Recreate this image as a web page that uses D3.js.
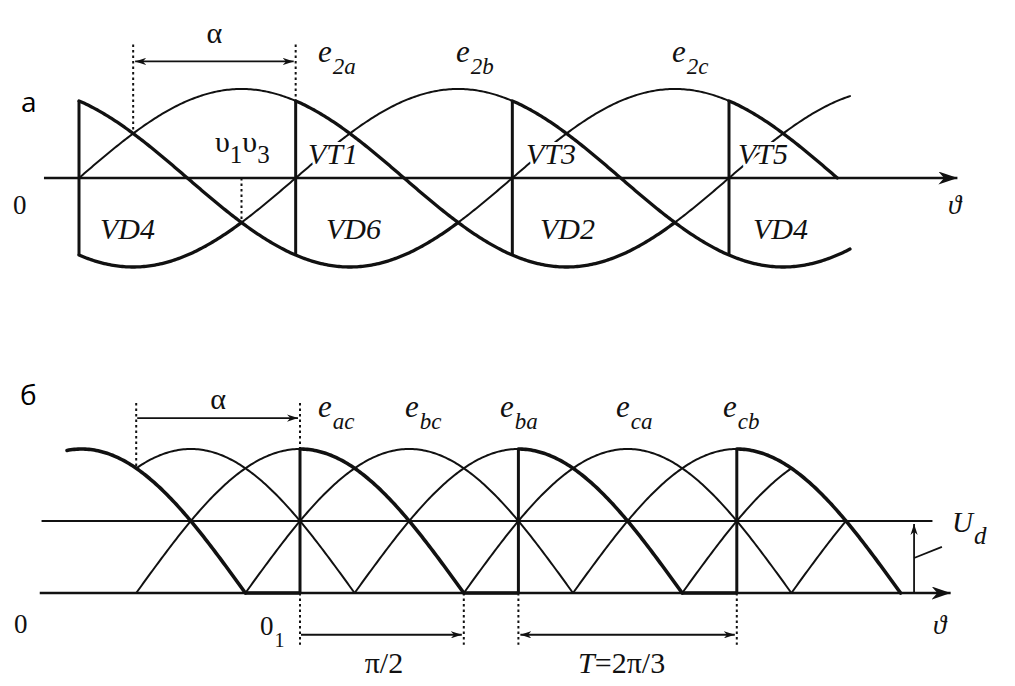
<!DOCTYPE html>
<html>
<head>
<meta charset="utf-8">
<script src="https://cdn.jsdelivr.net/npm/d3@7"></script>
<style>
  body { margin: 0; background: #fff; }
</style>
</head>
<body>
<div id="chart"></div>
<script>
// ---- part а: three phase emfs, angles in degrees ----
const phaseShift = { a: 0, b: -120, c: 120 };          // e2a = sin(t), e2b = sin(t-120), e2c = sin(t+120)
// [phase, from, to, thick]
const segmentsA = [
  ["a", 0, 120, false], ["a", 120, 330, true], ["a", 330, 427, false],
  ["b", 0, 90, true], ["b", 90, 240, false], ["b", 240, 427, true],
  ["c", 0, 210, true], ["c", 210, 360, false], ["c", 360, 420, true]
];
const firingA = [0, 120, 240, 360];                      // VT switching instants
const alphaA = [30, 120];                                // natural commutation -> firing
const topLabelsA = ["2a", "2b", "2c"];
const thyristorLabels = ["VT1", "VT3", "VT5"];
const diodeLabels = ["VD4", "VD6", "VD2", "VD4"];

// ---- part б: line voltages, arcs given by their peak angle ----
// [peak, from, to, thick]
const arcsB = [
  [-120, -128, -30, true],
  [-60, -90, 30, false],
  [0, -90, 0, false], [0, 0, 90, true],
  [60, -30, 150, false],
  [120, 30, 120, false], [120, 120, 210, true],
  [180, 90, 270, false],
  [240, 150, 240, false], [240, 240, 330, true],
  [300, 210, 270, false],
  [360, 270, 300, false]
];
const zeroRunsB = [[-30, 0], [90, 120], [210, 240]];    // output held at zero
const firingB = [0, 120, 240];
const UdLevel = 0.5;
const lineLabelsB = ["ac", "bc", "ba", "ca", "cb"];

const W = 1015, H = 686;
const ink = "#111";
const serif = "'Liberation Serif', 'Times New Roman', 'DejaVu Serif', serif";

const svg = d3.select("#chart").append("svg")
    .attr("width", W)
    .attr("height", H)
    .attr("font-family", serif);

const defs = svg.append("defs");
function marker(id, len, half) {
    defs.append("marker")
        .attr("id", id)
        .attr("viewBox", `0 ${-half} ${len} ${2 * half}`)
        .attr("refX", len).attr("refY", 0)
        .attr("markerWidth", len).attr("markerHeight", 2 * half)
        .attr("markerUnits", "userSpaceOnUse")
        .attr("orient", "auto-start-reverse")
        .append("path")
        .attr("d", `M0,${-half} L${len},0 L0,${half} L${len * 0.3},0 Z`)
        .attr("fill", ink);
}
marker("headS", 11, 3.6);
marker("headL", 19, 6.5);

function seg(g, x1, y1, x2, y2, w, extra) {
    const l = g.append("line")
        .attr("x1", x1).attr("y1", y1).attr("x2", x2).attr("y2", y2)
        .attr("stroke", ink).attr("stroke-width", w);
    if (extra === "dot") l.attr("stroke-dasharray", "2.5,3");
    return l;
}

function txt(g, x, y, size, italic) {
    return g.append("text").attr("x", x).attr("y", y)
        .attr("font-family", serif)
        .attr("fill", ink)
        .attr("font-size", size)
        .attr("font-style", italic ? "italic" : "normal");
}

function subText(g, x, y, base, sub, size, subSize, italic, halo) {
    const t = txt(g, x, y, size, italic);
    if (halo) t.attr("stroke", "#fff").attr("stroke-width", 6).attr("paint-order", "stroke");
    t.append("tspan").text(base);
    if (sub) t.append("tspan").attr("dx", 1).attr("dy", 12).attr("font-size", subSize).text(sub);
    return t;
}

// ================= part а =================
const xA = d3.scaleLinear().domain([0, 360]).range([79, 729]);
const yA = d3.scaleLinear().domain([-1, 1]).range([267, 89]);
const gA = svg.append("g");

// axis
seg(gA, xA(-19.4), yA(0), xA(486.5), yA(0), 2.6).attr("marker-end", "url(#headL)");

const lineA = d3.line().x(d => xA(d[0])).y(d => yA(d[1]));
const emf = (p, t) => Math.sin((t + phaseShift[p]) * Math.PI / 180);

segmentsA.filter(s => !s[3]).concat(segmentsA.filter(s => s[3])).forEach(([p, t0, t1, thick]) => {
    const pts = d3.range(t0, t1, 1).concat([t1]).map(t => [t, emf(p, t)]);
    gA.append("path")
        .attr("d", lineA(pts))
        .attr("fill", "none")
        .attr("stroke", ink)
        .attr("stroke-width", thick ? 3.3 : 2)
        .attr("stroke-linecap", "round");
});

firingA.forEach(t => seg(gA, xA(t), yA(Math.sin(Math.PI * 2 / 3)), xA(t), yA(-Math.sin(Math.PI * 2 / 3)), 3));

// alpha markers
seg(gA, xA(alphaA[0]), yA(1.5), xA(alphaA[0]), yA(0.5), 2, "dot");
seg(gA, xA(alphaA[1]), yA(1.5), xA(alphaA[1]), yA(Math.sin(Math.PI * 2 / 3)), 2, "dot");
seg(gA, xA(90), yA(0), xA(90), yA(-0.5), 2, "dot");
seg(gA, xA(alphaA[0]) + 2, yA(1.31), xA(alphaA[1]) - 2, yA(1.31), 1.8)
    .attr("marker-start", "url(#headS)").attr("marker-end", "url(#headS)");

txt(gA, (xA(alphaA[0]) + xA(alphaA[1])) / 2, 43, 30, false).attr("text-anchor", "middle").text("α");

// labels
[318, 456, 672].forEach((x, i) => subText(gA, x, 62, "e", topLabelsA[i], 31, 23, true));
[308, 526, 738].forEach((x, i) => subText(gA, x, 164, thyristorLabels[i], null, 30, 0, true, true));
[100, 326, 540, 753].forEach((x, i) => subText(gA, x, 239, diodeLabels[i], null, 30, 0, true, true));

const uv = txt(gA, 215, 152, 30, false);
uv.append("tspan").text("υ");
uv.append("tspan").attr("dy", 11).attr("font-size", 25).text("1");
uv.append("tspan").attr("dy", -11).text("υ");
uv.append("tspan").attr("dy", 11).attr("font-size", 25).text("3");

txt(gA, 13, 214, 27, false).text("0");
txt(gA, 948, 214, 27, true).text("ϑ");
gA.append("text").attr("x", 21).attr("y", 112)
    .attr("font-family", "'Open Sans', 'DejaVu Sans', sans-serif").attr("font-size", 28).text("а");

// ================= part б =================
const xB = d3.scaleLinear().domain([0, 120]).range([300, 518.4]);
const yB = d3.scaleLinear().domain([0, 1]).range([593, 449]);
const gB = svg.append("g");

seg(gB, xB(-143), yB(0), xB(357.5), yB(0), 2.6).attr("marker-end", "url(#headL)");
seg(gB, xB(-142), yB(UdLevel), xB(347.5), yB(UdLevel), 2);

const lineB = d3.line().x(d => xB(d[0])).y(d => yB(d[1]));
arcsB.filter(s => !s[3]).concat(arcsB.filter(s => s[3])).forEach(([pk, t0, t1, thick]) => {
    const pts = d3.range(t0, t1, 1).concat([t1]).map(t => [t, Math.cos((t - pk) * Math.PI / 180)]);
    gB.append("path")
        .attr("d", lineB(pts))
        .attr("fill", "none")
        .attr("stroke", ink)
        .attr("stroke-width", thick ? 3.6 : 2)
        .attr("stroke-linecap", "round");
});
zeroRunsB.forEach(([t0, t1]) => seg(gB, xB(t0), yB(0), xB(t1), yB(0), 3.3));
firingB.forEach(t => seg(gB, xB(t), yB(0), xB(t), yB(1), 3));

// dotted guides and spans
seg(gB, xB(-90), yB(1.32), xB(-90), yB(Math.cos(Math.PI / 6)), 2, "dot");
seg(gB, xB(0), yB(1.32), xB(0), yB(1), 2, "dot");
[0, 90, 120, 240].forEach(t => seg(gB, xB(t), yB(0), xB(t), yB(-0.36), 2, "dot"));

seg(gB, xB(-90) + 1, yB(1.215), xB(0) - 2, yB(1.215), 1.8).attr("marker-end", "url(#headS)");
seg(gB, xB(0) + 1, yB(-0.29), xB(90) - 2, yB(-0.29), 1.8).attr("marker-end", "url(#headS)");
seg(gB, xB(120) + 2, yB(-0.29), xB(240) - 2, yB(-0.29), 1.8)
    .attr("marker-start", "url(#headS)").attr("marker-end", "url(#headS)");

// Ud arrow
seg(gB, xB(337.4), yB(0), xB(337.4), yB(UdLevel) + 3, 1.8).attr("marker-end", "url(#headS)");
seg(gB, xB(337.4), yB(0.243), xB(352.7), yB(0.32), 1.8);

txt(gB, (xB(-90) + xB(0)) / 2, 409, 30, false).attr("text-anchor", "middle").text("α");

[318, 405, 500, 616, 723].forEach((x, i) => subText(gB, x, 417, "e", lineLabelsB[i], 31, 23, true));
subText(gB, 952, 532, "U", "d", 29, 25, true);

txt(gB, 14, 633, 27, false).text("0");
subText(gB, 260, 635, "0", "1", 27, 20, false);
txt(gB, 933, 634, 27, true).text("ϑ");

txt(gB, (xB(0) + xB(90)) / 2 + 2, 673, 30, false).attr("text-anchor", "middle").text("π/2");
const tl = txt(gB, (xB(120) + xB(240)) / 2 - 6, 673, 30, false).attr("text-anchor", "middle");
tl.append("tspan").attr("font-style", "italic").text("T");
tl.append("tspan").text("=2π/3");

gB.append("text").attr("x", 20).attr("y", 405)
    .attr("font-family", "'Open Sans', 'DejaVu Sans', sans-serif").attr("font-size", 28).text("б");
</script>
</body>
</html>
